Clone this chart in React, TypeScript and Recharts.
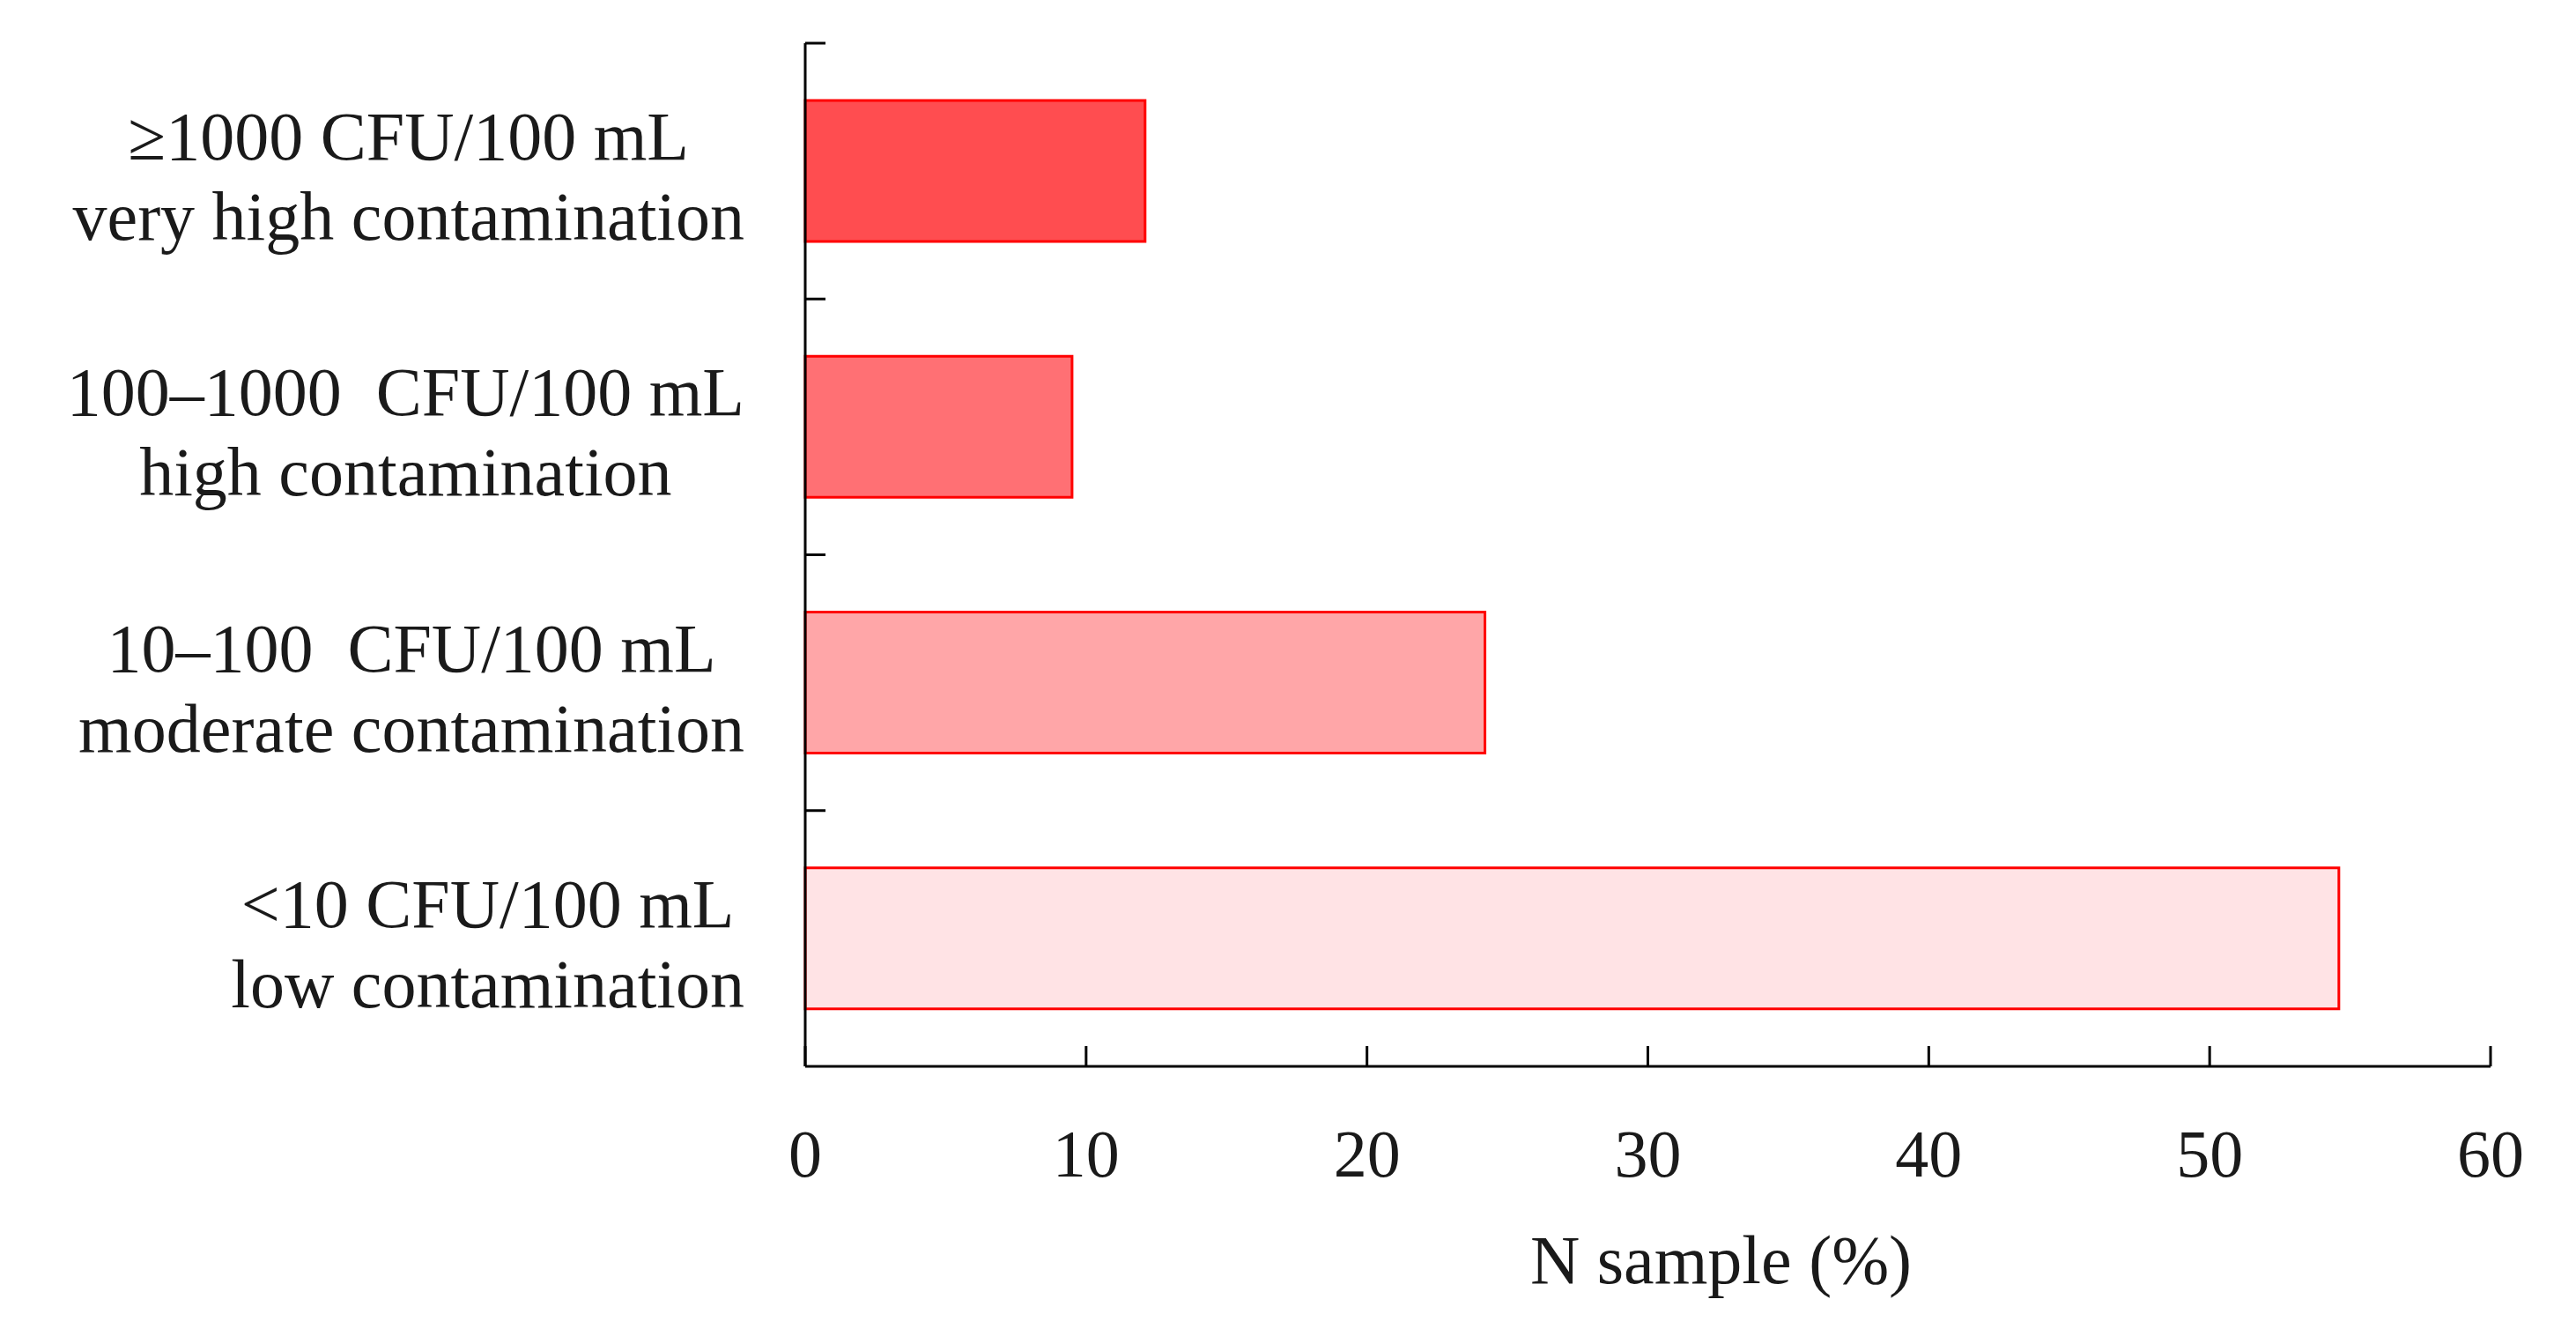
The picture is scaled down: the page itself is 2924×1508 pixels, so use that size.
import { BarChart, Bar, XAxis, YAxis, Cell, Label } from "recharts";

document.body.style.margin = "0";

const rangeLabels = ["≥1000 CFU/100 mL", "100–1000  CFU/100 mL", "10–100  CFU/100 mL", "<10 CFU/100 mL"];
const levelLabels = ["very high contamination", "high contamination", "moderate contamination", "low contamination"];
const samplePercent = [12.1, 9.5, 24.2, 54.6];
const barColors = ["#ff4d50", "#ff7074", "#ffa6a8", "#ffe3e5"];
const xTicks = [0, 10, 20, 30, 40, 50, 60];

const data = rangeLabels.map((r, i) => ({ name: r, level: levelLabels[i], value: samplePercent[i] }));

const FONT = '"Liberation Serif", "Times New Roman", serif';
const W = 2924;
const H = 1508;
const TOP = 49;
const AXIS_X = 914;
const X_AXIS_H = 298;
const halfBand = (H - TOP - X_AXIS_H) / data.length / 2;

let ctx: CanvasRenderingContext2D | null = null;
function textWidth(s: string, size: number) {
  if (!ctx) ctx = document.createElement("canvas").getContext("2d");
  if (!ctx) return s.length * size * 0.45;
  ctx.font = `${size}px "Liberation Serif"`;
  return ctx.measureText(s).width;
}

function CategoryTick(props: any) {
  const { x, y, index } = props;
  const top = rangeLabels[index];
  const bottom = levelLabels[index];
  const size = 78;
  const blockW = Math.max(textWidth(top, size), textWidth(bottom, size));
  const cx = x - 69 - blockW / 2;
  return (
    <g>
      <line x1={x} x2={x + 23} y1={y - halfBand} y2={y - halfBand} stroke="#000" strokeWidth={3} />
      <text x={cx} y={y - 13} textAnchor="middle" fontFamily={FONT} fontSize={size} fill="#1a1a1a" style={{ whiteSpace: "pre" }}>
        {top}
      </text>
      <text x={cx} y={y + 78} textAnchor="middle" fontFamily={FONT} fontSize={size} fill="#1a1a1a" style={{ whiteSpace: "pre" }}>
        {bottom}
      </text>
    </g>
  );
}

function ValueTick(props: any) {
  const { x, y, payload } = props;
  return (
    <g>
      <line x1={x} x2={x} y1={y} y2={y - 23} stroke="#000" strokeWidth={3} />
      <text x={x} y={y + 125} textAnchor="middle" fontFamily={FONT} fontSize={76} fill="#1a1a1a">
        {payload.value}
      </text>
    </g>
  );
}

export default function App() {
  return (
    <div style={{ width: W, height: H, background: "#fff" }}>
      <BarChart
        width={W}
        height={H}
        data={data}
        layout="vertical"
        margin={{ top: TOP, right: 97, bottom: 0, left: 0 }}
        barCategoryGap={0}
      >
        <XAxis
          type="number"
          domain={[0, 60]}
          ticks={xTicks}
          height={X_AXIS_H}
          tickLine={false}
          tickSize={0}
          tickMargin={0}
          tick={<ValueTick />}
          axisLine={{ stroke: "#000", strokeWidth: 3 }}
        >
          <Label
            content={(p: any) => {
              const vb = p.viewBox;
              return (
                <text x={vb.x + vb.width / 2 + 83} y={vb.y + 246} textAnchor="middle" fontFamily={FONT} fontSize={78} fill="#1a1a1a">
                  N sample (%)
                </text>
              );
            }}
          />
        </XAxis>
        <YAxis
          type="category"
          dataKey="name"
          width={AXIS_X}
          tickLine={false}
          tickSize={0}
          tickMargin={0}
          tick={<CategoryTick />}
          axisLine={{ stroke: "#000", strokeWidth: 3 }}
          interval={0}
        />
        <Bar dataKey="value" barSize={160} stroke="#ff0000" strokeWidth={3} isAnimationActive={false}>
          {data.map((d, i) => (
            <Cell key={d.name} fill={barColors[i]} />
          ))}
        </Bar>
      </BarChart>
    </div>
  );
}
